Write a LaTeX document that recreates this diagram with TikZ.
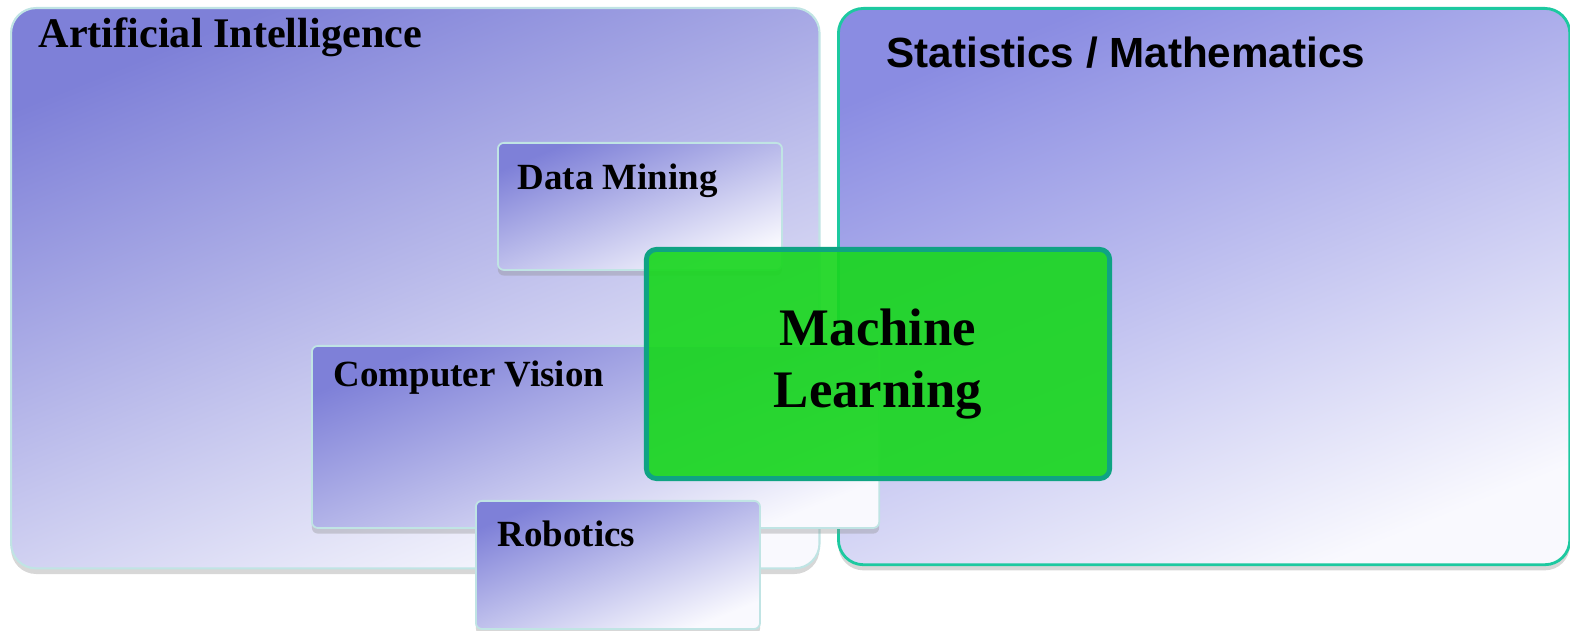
\documentclass[tikz,border=0pt]{standalone}
\usepackage{fontspec}
\setmainfont{Liberation Serif}
\newfontfamily\headsans{Liberation Sans}
\usetikzlibrary{shadows}

\definecolor{areatop}{RGB}{126,128,216}
\definecolor{stattop}{RGB}{138,140,226}
\definecolor{areabot}{RGB}{249,249,254}
\definecolor{arealine}{RGB}{192,228,228}
\definecolor{statline}{RGB}{29,201,160}
\definecolor{mlfill}{RGB}{26,214,32}
\definecolor{mlline}{RGB}{15,163,131}

\begin{document}
\begin{tikzpicture}[x=0.01cm,y=-0.01cm,
  area/.style={draw=arealine, line width=0.6pt, rounded corners=0.25cm,
    top color=areatop, bottom color=areabot, shading angle=22,
    inner sep=0pt, anchor=north west,
    drop shadow={shadow xshift=0pt, shadow yshift=-1.6pt, opacity=0.35, fill=black!45}},
  subarea/.style={area, rounded corners=0.06cm, line width=0.5pt},
  title/.style={font=\bfseries\fontsize{12}{14}\selectfont, anchor=base west, inner sep=0pt},
  subtitle/.style={font=\bfseries\fontsize{10.5}{12}\selectfont, anchor=base west, inner sep=0pt},
  mlbox/.style={draw=mlline, line width=1.4pt, fill=mlfill, fill opacity=0.92, text opacity=1,
    rounded corners=0.1cm, align=center, inner sep=0pt,
    font=\bfseries\fontsize{15}{17.9}\selectfont}]
\useasboundingbox (0,0) rectangle (1570,631);

% the two big fields
\node[area, minimum width=8.08cm, minimum height=5.6cm] (ai) at (10,7) {};
\node[title] (ailbl) at ([shift={(28,41)}]ai.north west) {Artificial Intelligence};
\node[area, draw=statline, top color=stattop, bottom color=areabot, shading angle=22,
  line width=0.8pt, minimum width=7.31cm, minimum height=5.56cm] (stat) at (837,7) {};
\node[title, font=\headsans\bfseries\fontsize{12}{14}\selectfont] (statlbl)
  at ([shift={(49,61)}]stat.north west) {Statistics / Mathematics};

% sub fields
\node[subarea, minimum width=2.84cm, minimum height=1.27cm] (dm) at (497,142) {};
\node[subtitle] (dmlbl) at ([shift={(20,48)}]dm.north west) {Data Mining};
\node[subarea, minimum width=5.67cm, minimum height=1.82cm] (cv) at (311,345) {};
\node[subtitle] (cvlbl) at ([shift={(22,42)}]cv.north west) {Computer Vision};
\node[subarea, minimum width=2.84cm, minimum height=1.28cm] (rob) at (475,500) {};
\node[subtitle] (roblbl) at ([shift={(22,47)}]rob.north west) {Robotics};

% where they meet
\node[mlbox, minimum width=4.63cm, minimum height=2.29cm] (ml) at (878,364) {Machine\\Learning};
\end{tikzpicture}
\end{document}
